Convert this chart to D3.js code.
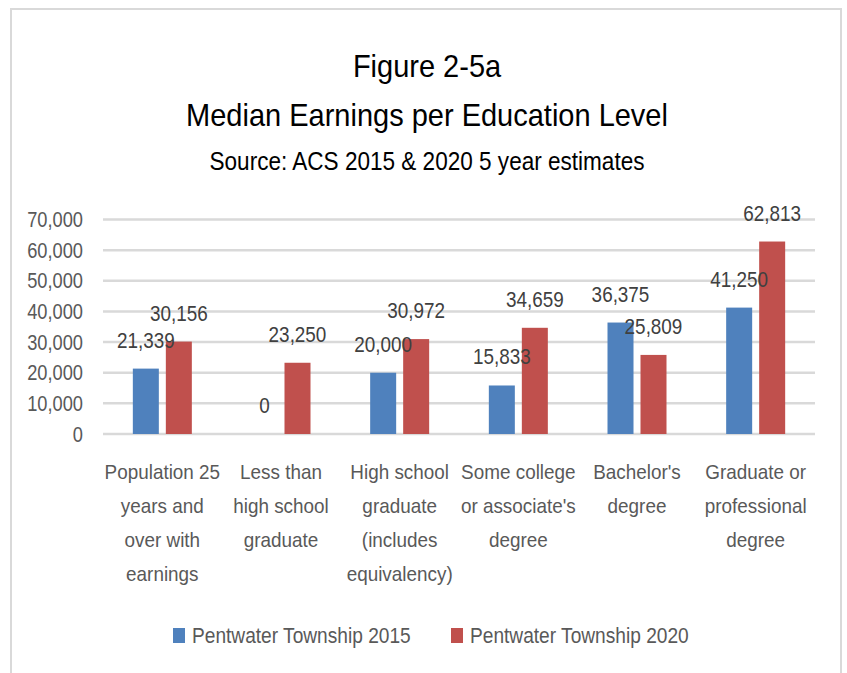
<!DOCTYPE html>
<html>
<head>
<meta charset="utf-8">
<script src="https://cdn.jsdelivr.net/npm/d3@7"></script>
<style>
  html, body { margin: 0; padding: 0; background: #fff; }
  svg { display: block; font-family: "Liberation Sans", Arial, sans-serif; }
</style>
</head>
<body>
<svg id="chart" width="847" height="673"></svg>
<script>
// ── Median earnings bar chart ───────────────────────────────────────────────
(function () {
    'use strict';

    const W = 847, H = 673;

    // Category labels, one entry per line as drawn under the axis
    const categoryLines = [
        ['Population 25', 'years and', 'over with', 'earnings'],
        ['Less than', 'high school', 'graduate'],
        ['High school', 'graduate', '(includes', 'equivalency)'],
        ['Some college', "or associate's", 'degree'],
        ["Bachelor's", 'degree'],
        ['Graduate or', 'professional', 'degree']
    ];
    const categories = categoryLines.map(function (l) { return l.join(' '); });

    const seriesNames = ['Pentwater Township 2015', 'Pentwater Township 2020'];
    const seriesColors = ['#4f81bd', '#c0504d'];
    const values2015 = [21339, 0, 20000, 15833, 36375, 41250];
    const values2020 = [30156, 23250, 30972, 34659, 25809, 62813];
    const seriesValues = [values2015, values2020];

    const yTicks = [0, 10000, 20000, 30000, 40000, 50000, 60000, 70000];

    const titleLines = ['Figure 2-5a', 'Median Earnings per Education Level'];
    const subtitle = 'Source: ACS 2015 & 2020 5 year estimates';

    const svg = d3.select('#chart');

    // chart frame
    svg.append('rect')
        .attr('x', 11).attr('y', 9)
        .attr('width', 830).attr('height', H + 20)
        .attr('fill', '#fff')
        .attr('stroke', '#d9d9d9')
        .attr('stroke-width', 2);

    // place a horizontally condensed text
    function condensed(sel, x, y, k, ky) {
        return sel.attr('transform', 'translate(' + x + ',' + y + ') scale(' + k + ',' + (ky || 1) + ')');
    }

    // titles
    svg.selectAll('text.title')
        .data(titleLines)
        .enter().append('text')
        .attr('class', 'title')
        .attr('text-anchor', 'middle')
        .attr('font-size', 29)
        .attr('fill', '#000')
        .each(function (d, i) { condensed(d3.select(this), 427, 77 + i * 49, 1, 1.08); })
        .text(function (d) { return d; });

    condensed(svg.append('text'), 427, 170, 0.94, 1.05)
        .attr('text-anchor', 'middle')
        .attr('font-size', 24)
        .attr('fill', '#000')
        .text(subtitle);

    // scales
    const x = d3.scaleBand().domain(categories).range([103, 815]);
    const xSub = d3.scaleBand().domain(seriesNames)
        .range([0, x.bandwidth()])
        .paddingInner(0.212).paddingOuter(0.904);
    const y = d3.scaleLinear().domain([0, 70000]).range([434, 219.5]);
    const fmt = d3.format(',');

    // gridlines
    svg.append('g')
        .selectAll('line')
        .data(yTicks)
        .enter().append('line')
        .attr('x1', 103).attr('x2', 815)
        .attr('y1', function (d) { return y(d); })
        .attr('y2', function (d) { return y(d); })
        .attr('stroke', '#d9d9d9')
        .attr('stroke-width', 2.5);

    // y tick labels
    svg.append('g')
        .selectAll('text')
        .data(yTicks)
        .enter().append('text')
        .attr('text-anchor', 'end')
        .attr('font-size', 21)
        .attr('fill', '#595959')
        .each(function (d) { condensed(d3.select(this), 83, y(d) + 7.5, 0.87, 1.05); })
        .text(function (d) { return fmt(d); });

    // bars + data labels
    const rows = [];
    seriesValues.forEach(function (vals, s) {
        vals.forEach(function (v, i) {
            rows.push({ cat: categories[i], series: seriesNames[s], color: seriesColors[s], value: v });
        });
    });

    svg.append('g')
        .selectAll('rect')
        .data(rows)
        .enter().append('rect')
        .attr('x', function (d) { return x(d.cat) + xSub(d.series); })
        .attr('y', function (d) { return y(d.value); })
        .attr('width', xSub.bandwidth())
        .attr('height', function (d) { return y(0) - y(d.value); })
        .attr('fill', function (d) { return d.color; });

    svg.append('g')
        .selectAll('text')
        .data(rows)
        .enter().append('text')
        .attr('text-anchor', 'middle')
        .attr('font-size', 21)
        .attr('fill', '#404040')
        .each(function (d) {
            condensed(d3.select(this),
                x(d.cat) + xSub(d.series) + xSub.bandwidth() / 2,
                y(d.value) - 21, 0.9, 1.05);
        })
        .text(function (d) { return fmt(d.value); });

    // category labels
    const catG = svg.append('g')
        .selectAll('text')
        .data(categoryLines)
        .enter().append('text')
        .attr('text-anchor', 'middle')
        .attr('font-size', 21)
        .attr('fill', '#595959')
        .each(function (d, i) {
            condensed(d3.select(this), x(categories[i]) + x.bandwidth() / 2, 479, 0.9);
        });
    catG.selectAll('tspan')
        .data(function (d) { return d; })
        .enter().append('tspan')
        .attr('x', 0)
        .attr('y', function (d, i) { return i * 34; })
        .text(function (d) { return d; });

    // legend
    const legendX = [173, 451];
    const lg = svg.append('g')
        .selectAll('g')
        .data(seriesNames)
        .enter().append('g');
    lg.append('rect')
        .attr('x', function (d, i) { return legendX[i]; })
        .attr('y', 628)
        .attr('width', 12).attr('height', 15)
        .attr('fill', function (d, i) { return seriesColors[i]; });
    lg.append('text')
        .attr('font-size', 22)
        .attr('fill', '#595959')
        .each(function (d, i) { condensed(d3.select(this), legendX[i] + 19, 643, 0.87); })
        .text(function (d) { return d; });
})();
</script>
</body>
</html>
